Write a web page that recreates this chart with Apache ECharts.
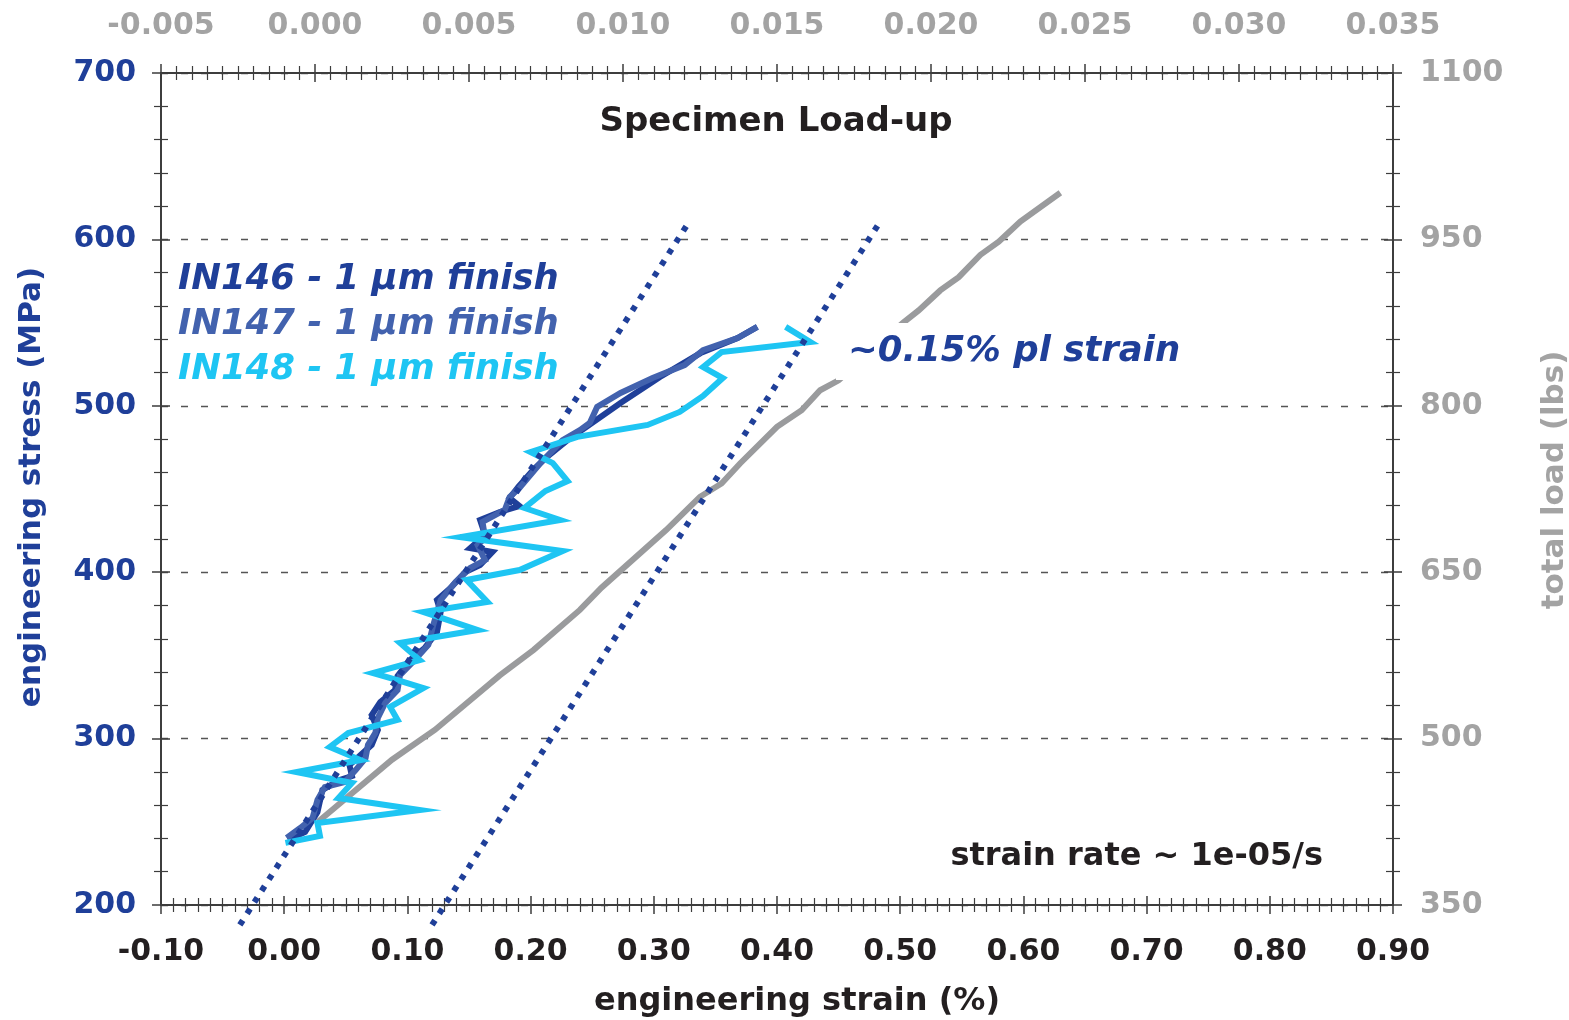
<!DOCTYPE html>
<html>
<head>
<meta charset="utf-8">
<script src="https://cdn.jsdelivr.net/npm/echarts@6/dist/echarts.min.js"></script>
<style>
  html, body { margin: 0; padding: 0; background: #ffffff; }
  #chart { width: 1569px; height: 1020px; }
</style>
</head>
<body>
<div id="chart"></div>
<script>
// ---- data ----
const in146Strain = [0.003,0.017,0.027,0.031,0.045,0.055,0.053,0.062,0.071,0.076,0.071,0.078,0.090,0.092,0.102,0.114,0.124,0.127,0.124,0.135,0.147,0.159,0.169,0.151,0.163,0.159,0.175,0.191,0.183,0.190,0.202,0.212,0.230,0.273,0.305,0.338,0.368,0.384];
const in146Stress = [239.1,243.9,255.9,269.1,275.1,277.5,284.1,290.1,296.2,305.2,314.2,322.0,329.2,337.6,347.2,354.4,364.1,376.1,383.3,390.5,400.1,404.3,412.1,414.5,422.4,431.4,436.2,439.8,444.6,451.2,461.4,468.6,479.4,501.7,517.3,531.7,540.7,547.4];

const in147Strain = [0.002,0.013,0.023,0.027,0.033,0.049,0.058,0.066,0.068,0.074,0.076,0.082,0.092,0.094,0.106,0.117,0.121,0.127,0.139,0.151,0.163,0.157,0.163,0.161,0.179,0.183,0.191,0.208,0.226,0.240,0.248,0.254,0.273,0.299,0.325,0.340,0.368,0.384];
const in147Stress = [240.3,246.3,252.3,263.1,270.9,273.9,281.1,288.3,296.2,303.4,312.4,321.4,329.2,338.2,347.2,356.3,368.3,383.3,394.1,402.5,407.3,416.3,420.6,430.2,437.4,445.2,450.6,465.6,479.4,485.4,489.7,499.3,507.7,516.7,524.5,533.5,540.7,547.4];

const in148Strain = [0.001,0.029,0.027,0.110,0.044,0.055,0.010,0.062,0.037,0.052,0.092,0.086,0.113,0.092,0.072,0.110,0.094,0.157,0.113,0.165,0.148,0.191,0.226,0.143,0.224,0.195,0.212,0.230,0.218,0.200,0.238,0.295,0.321,0.340,0.356,0.340,0.355,0.427,0.407];
const in148Stress = [237.3,241.5,249.3,257.1,264.3,273.3,279.9,287.1,295.0,303.3,311.2,319.0,330.4,335.2,339.4,347.2,357.5,365.3,376.1,382.1,395.3,401.3,412.7,421.1,431.4,438.6,448.8,454.8,465.6,472.2,481.3,488.5,496.3,505.9,516.7,523.3,532.3,538.3,547.4];

// gray curve: top strain axis vs right load axis
const grayStrain = [0.0001,0.0025,0.0039,0.0060,0.0071,0.0086,0.0093,0.0114,0.0125,0.0132,0.0138,0.0150,0.0158,0.0164,0.0170,0.0191,0.0196,0.0203,0.0209,0.0216,0.0222,0.0229,0.0242];
const grayLoad   = [425,481,508,557,580,616,636,688,718,730,748,781,796,814,823,875,886,904,916,936,948,966,992];

// elastic line and 0.15% offset line
const fit1Strain = [-0.036, 0.329];
const fit1Stress = [188, 611];
const fit2Strain = [0.120, 0.484];
const fit2Stress = [188, 611];

const seriesNames = ['IN146 - 1 µm finish', 'IN147 - 1 µm finish', 'IN148 - 1 µm finish'];

// axis ranges / tick steps
const bottomX = {min: -0.10, max: 0.90, step: 0.10};
const topX    = {min: -0.005, max: 0.035, step: 0.005};
const leftY   = {min: 200, max: 700, step: 100};
const rightY  = {min: 350, max: 1100, step: 150};

// ---- styling ----
const C146 = '#1f3f99', C147 = '#4262ae', C148 = '#1ec5f3', CGRAY = '#9a9b9d';
const FONT = '"DejaVu Sans", Verdana, sans-serif';
const AXC = '#3d3d3d';

const zip = (a, b) => a.map((v, i) => [v, b[i]]);

const gridRect = {left: 161, right: 176, top: 73, bottom: 115};

function baseAxis(range, extra) {
  return Object.assign({
    type: 'value', min: range.min, max: range.max, interval: range.step,
    axisLine: {show: true, onZero: false, lineStyle: {color: AXC, width: 2}},
    splitLine: {show: false}
  }, extra);
}

function tickAxis(range, pos, gridIndex, inside, minorSplit, labelCfg, lineShow) {
  return baseAxis(range, {
    gridIndex: gridIndex, position: pos,
    axisLine: {show: lineShow, onZero: false, lineStyle: {color: AXC, width: 2}},
    axisTick: {show: true, inside: inside, length: 9, lineStyle: {color: AXC, width: 1.5}},
    minorTick: {show: true, splitNumber: minorSplit, length: 7, lineStyle: {color: AXC, width: 1.2}},
    axisLabel: labelCfg
  });
}

const noLabel = {show: false};

const xAxes = [
  tickAxis(bottomX, 'bottom', 0, false, 10, {
    show: true, margin: 32, color: '#231f20', fontFamily: FONT, fontWeight: 'bold', fontSize: 30,
    formatter: v => v.toFixed(2)
  }, true),
  tickAxis(topX, 'top', 0, false, 10, {
    show: true, margin: 32, color: '#a3a3a3', fontFamily: FONT, fontWeight: 'bold', fontSize: 30,
    formatter: v => v.toFixed(3)
  }, true),
  tickAxis(bottomX, 'bottom', 1, true, 10, noLabel, false),
  tickAxis(topX, 'top', 1, true, 10, noLabel, false)
];

const leftYAxis = tickAxis(leftY, 'left', 0, false, 5, {
  show: true, margin: 25, color: C146, fontFamily: FONT, fontWeight: 'bold', fontSize: 30,
  formatter: v => String(Math.round(v))
}, true);
leftYAxis.splitLine = {show: true, lineStyle: {color: '#555', width: 1.3, type: [7, 13]}};

const yAxes = [
  leftYAxis,
  tickAxis(rightY, 'right', 0, false, 5, {
    show: true, margin: 27, color: '#a3a3a3', fontFamily: FONT, fontWeight: 'bold', fontSize: 30,
    formatter: v => String(Math.round(v))
  }, true),
  tickAxis(leftY, 'left', 1, true, 5, noLabel, false),
  tickAxis(rightY, 'right', 1, true, 5, noLabel, false)
];

function lineSeries(name, data, color, width, xi, yi, z, extra) {
  return Object.assign({
    name: name, type: 'line', data: data, xAxisIndex: xi, yAxisIndex: yi,
    showSymbol: false, symbol: 'none', z: z, animation: false,
    lineStyle: {color: color, width: width, join: 'miter', miterLimit: 8, cap: 'butt'}
  }, extra || {});
}

const dotStyle = {color: C146, width: 6, type: [5.5, 8], cap: 'butt'};

const option = {
  backgroundColor: '#ffffff',
  animation: false,
  grid: [
    Object.assign({}, gridRect),
    Object.assign({}, gridRect)
  ],
  xAxis: xAxes,
  yAxis: yAxes,
  series: [
    lineSeries('total load', zip(grayStrain, grayLoad), CGRAY, 6, 1, 1, 2),
    lineSeries(seriesNames[0], zip(in146Strain, in146Stress), C146, 6, 0, 0, 3),
    lineSeries(seriesNames[1], zip(in147Strain, in147Stress), C147, 6, 0, 0, 4),
    lineSeries(seriesNames[2], zip(in148Strain, in148Stress), C148, 6, 0, 0, 5),
    lineSeries('elastic fit', zip(fit1Strain, fit1Stress), C146, 6, 0, 0, 6,
      {clip: false, lineStyle: dotStyle}),
    lineSeries('0.15% offset', zip(fit2Strain, fit2Stress), C146, 6, 0, 0, 6,
      {clip: false, lineStyle: dotStyle})
  ],
  graphic: [
    {type: 'text', x: 776, y: 122, z: 100, style: {
      text: 'Specimen Load-up', font: 'bold 34px ' + FONT, fill: '#231f20', align: 'center', verticalAlign: 'middle'}},
    {type: 'text', x: 178, y: 280, z: 100, style: {
      text: seriesNames[0], font: 'italic bold 35.5px ' + FONT, fill: C146, align: 'left', verticalAlign: 'middle'}},
    {type: 'text', x: 178, y: 325, z: 100, style: {
      text: seriesNames[1], font: 'italic bold 35.5px ' + FONT, fill: C147, align: 'left', verticalAlign: 'middle'}},
    {type: 'text', x: 178, y: 370, z: 100, style: {
      text: seriesNames[2], font: 'italic bold 35.5px ' + FONT, fill: C148, align: 'left', verticalAlign: 'middle'}},
    {type: 'text', x: 836, y: 323, z: 100, style: {
      text: '~0.15% pl strain', font: 'italic bold 35.5px ' + FONT, fill: C146,
      backgroundColor: '#ffffff', padding: [8, 8, 7, 12], lineHeight: 42, align: 'left', verticalAlign: 'top'}},
    {type: 'text', x: 1323, y: 857, z: 100, style: {
      text: 'strain rate ~ 1e-05/s', font: 'bold 32px ' + FONT, fill: '#231f20', align: 'right', verticalAlign: 'middle'}},
    {type: 'text', x: 797, y: 1002, z: 100, style: {
      text: 'engineering strain (%)', font: 'bold 32px ' + FONT, fill: '#231f20', align: 'center', verticalAlign: 'middle'}},
    {type: 'text', x: 32, y: 487, z: 100, rotation: Math.PI / 2, style: {
      text: 'engineering stress (MPa)', font: 'bold 31px ' + FONT, fill: C146, align: 'center', verticalAlign: 'middle'}},
    {type: 'text', x: 1555, y: 480, z: 100, rotation: Math.PI / 2, style: {
      text: 'total load (lbs)', font: 'bold 31px ' + FONT, fill: '#a3a3a3', align: 'center', verticalAlign: 'middle'}}
  ]
};

const chart = echarts.init(document.getElementById('chart'), null, {renderer: 'canvas'});
chart.setOption(option);
</script>
</body>
</html>
